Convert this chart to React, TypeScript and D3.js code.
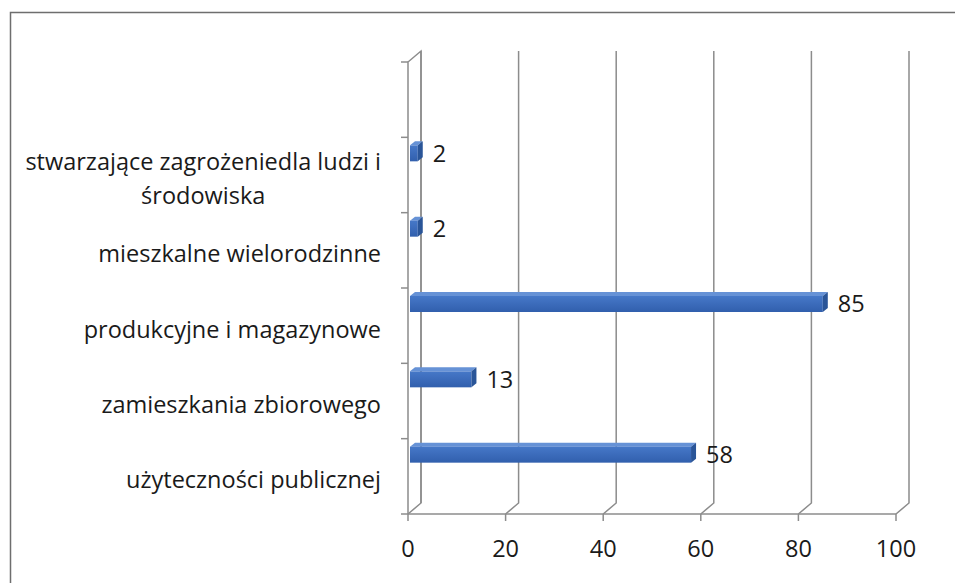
import React, { useEffect, useRef } from "react";
import * as d3 from "d3";

// Categories from top to bottom (the top slot is empty in the original chart)
const categories = [
  "",
  "stwarzające zagrożeniedla ludzi i\nśrodowiska",
  "mieszkalne wielorodzinne",
  "produkcyjne i magazynowe",
  "zamieszkania zbiorowego",
  "użyteczności publicznej",
];
const values: (number | null)[] = [null, 2, 2, 85, 13, 58];
const xTicks = [0, 20, 40, 60, 80, 100];

export default function App() {
  const chartRef = useRef<SVGSVGElement>(null);

  useEffect(() => {
    const svg = d3.select(chartRef.current);
    svg.selectAll("*").remove();

    const width = 955;
    const height = 583;
    const font = "'Open Sans', sans-serif";
    const gridColor = "#8c8c8c";
    const fontSize = 23.5;

    // 3D depth offset of the back wall
    const dx = 13;
    const dy = -11;
    const top = 62;
    const bottom = 514;

    const xScale = d3.scaleLinear().domain([0, 100]).range([408, 896]);
    const yScale = d3
      .scaleBand()
      .domain(categories.map((c, i) => String(i)))
      .range([top, bottom]);

    // outer frame
    svg
      .append("rect")
      .attr("x", 10.5)
      .attr("y", 12.5)
      .attr("width", width)
      .attr("height", height)
      .attr("fill", "none")
      .attr("stroke", "#6e6e6e")
      .attr("stroke-width", 1.5);

    const defs = svg.append("defs");
    const grad = defs
      .append("linearGradient")
      .attr("id", "barFront")
      .attr("x1", 0)
      .attr("y1", 0)
      .attr("x2", 0)
      .attr("y2", 1);
    grad.append("stop").attr("offset", "0%").attr("stop-color", "#4678c8");
    grad.append("stop").attr("offset", "100%").attr("stop-color", "#315fad");

    const grid = svg.append("g").attr("stroke", gridColor).attr("stroke-width", 1.5).attr("fill", "none");

    // side wall (left)
    grid
      .append("path")
      .attr(
        "d",
        `M${xScale(0)},${bottom}V${top}L${xScale(0) + dx},${top + dy}V${bottom + dy}`
      );

    // back wall gridlines + floor connectors
    xTicks.forEach((t) => {
      const x = xScale(t);
      grid
        .append("path")
        .attr("d", `M${x},${bottom}L${x + dx},${bottom + dy}V${top + dy}`);
    });

    // floor front edge
    grid
      .append("line")
      .attr("x1", xScale(0))
      .attr("x2", xScale(100))
      .attr("y1", bottom)
      .attr("y2", bottom);

    // x ticks
    grid
      .selectAll(".xt")
      .data(xTicks)
      .join("line")
      .attr("x1", (d) => xScale(d))
      .attr("x2", (d) => xScale(d))
      .attr("y1", bottom)
      .attr("y2", bottom + 7);

    // category ticks
    const bounds = categories.map((c, i) => yScale(String(i)) as number).concat([bottom]);
    grid
      .selectAll(".yt")
      .data(bounds)
      .join("line")
      .attr("x1", xScale(0) - 7)
      .attr("x2", xScale(0))
      .attr("y1", (d) => d)
      .attr("y2", (d) => d);

    // x tick labels
    svg
      .append("g")
      .selectAll("text")
      .data(xTicks)
      .join("text")
      .attr("x", (d) => xScale(d))
      .attr("y", 557)
      .attr("text-anchor", "middle")
      .attr("font-family", font)
      .attr("font-size", fontSize)
      .attr("fill", "#1a1a1a")
      .text((d) => d);

    // category labels: block right-aligned, lines centred inside the block
    const labelRight = 381;
    categories.forEach((c, i) => {
      if (!c) return;
      const lines = c.split("\n");
      const yc = (yScale(String(i)) as number) + yScale.bandwidth() / 2 + 4;
      const lineH = 34;
      const g = svg.append("g");
      const texts = lines.map((line, j) =>
        g
          .append("text")
          .attr("y", yc + (j - (lines.length - 1) / 2) * lineH + 8)
          .attr("text-anchor", "middle")
          .attr("font-family", font)
          .attr("font-size", fontSize)
          .attr("fill", "#1a1a1a")
          .text(line)
      );
      const widths = texts.map((t) => (t.node() as SVGTextElement).getComputedTextLength());
      const maxW = d3.max(widths) || 0;
      texts.forEach((t) => t.attr("x", labelRight - maxW / 2));
    });

    // bars
    const bd = 5; // bar depth offset
    const bh = 16; // front face height
    const bars = svg.append("g");
    values.forEach((v, i) => {
      if (v == null) return;
      const y0 = (yScale(String(i)) as number) + 8;
      const x0 = xScale(0) + 2;
      const x1 = xScale(v);
      // top face
      bars
        .append("path")
        .attr("d", `M${x0},${y0}L${x0 + bd},${y0 - 4}H${x1 + bd}L${x1},${y0}Z`)
        .attr("fill", "#6692d6");
      // front face
      bars
        .append("rect")
        .attr("x", x0)
        .attr("y", y0)
        .attr("width", Math.max(0, x1 - x0))
        .attr("height", bh)
        .attr("fill", "url(#barFront)");
      // end face
      bars
        .append("path")
        .attr("d", `M${x1},${y0}L${x1 + bd},${y0 - 4}V${y0 + bh - 4}L${x1},${y0 + bh}Z`)
        .attr("fill", "#2a5598");
      // value label
      svg
        .append("text")
        .attr("x", x1 + bd + 10)
        .attr("y", y0 + bh / 2 + 2)
        .attr("font-family", font)
        .attr("font-size", fontSize)
        .attr("fill", "#1a1a1a")
        .attr("dominant-baseline", "middle")
        .text(v);
    });
  }, []);

  return (
    <div>
      <svg
        ref={chartRef}
        width={955}
        height={583}
        style={{ position: "absolute", left: 0, top: 0, background: "#fff" }}
      ></svg>
    </div>
  );
}
